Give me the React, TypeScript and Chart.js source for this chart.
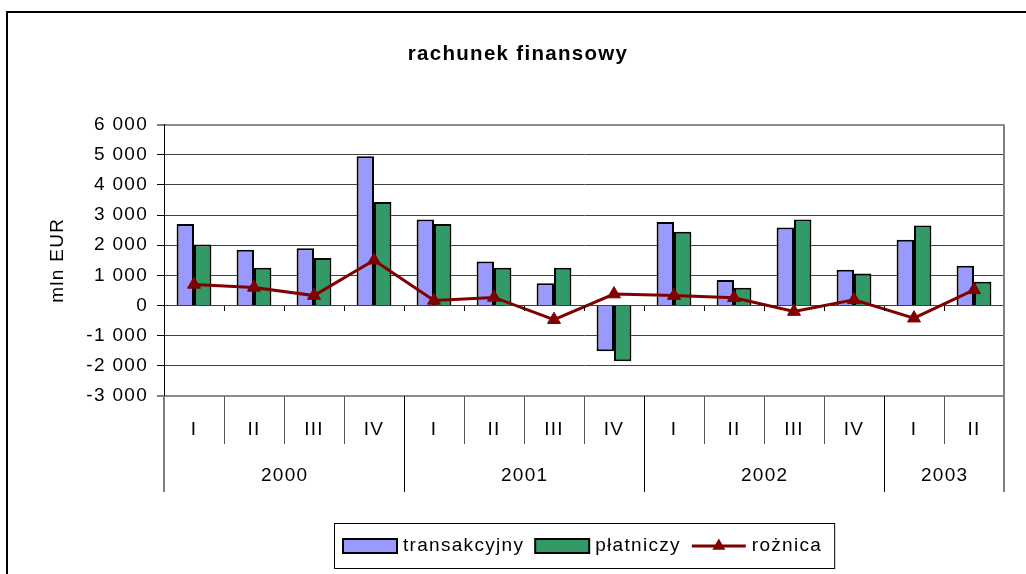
import React, { useEffect, useRef } from 'react';
import { Chart, registerables } from 'chart.js';

Chart.register(...registerables);

// ---- data ----
const quarterLabels = ['I', 'II', 'III', 'IV', 'I', 'II', 'III', 'IV', 'I', 'II', 'III', 'IV', 'I', 'II'];
const yearLabels = ['2000', '2001', '2002', '2003'];
const yearQuarterCounts = [4, 4, 4, 2];
const transakcyjny = [2700, 1850, 1900, 4950, 2850, 1460, 740, -1520, 2770, 850, 2590, 1190, 2180, 1320];
const platniczy = [2020, 1250, 1580, 3430, 2700, 1250, 1250, -1850, 2450, 590, 2850, 1060, 2650, 790];
const roznica = [700, 600, 330, 1500, 170, 270, -470, 380, 330, 260, -200, 190, -420, 520];
const seriesNames = ['transakcyjny', 'płatniczy', 'rożnica'];
const chartTitle = 'rachunek finansowy';
const yAxisTitle = 'mln EUR';
const yMin = -3000;
const yMax = 6000;
const yStep = 1000;

const FAMILY = '"Liberation Sans", Arial, sans-serif';
const BLUE = '#9999FF';
const GREEN = '#339966';
const LINE = '#800000';
const SPACING = '1.3px';

const fmt = (v: number) => {
  const s = Math.abs(v).toString().replace(/\B(?=(\d{3})+(?!\d))/g, ' ');
  return (v < 0 ? '-' : '') + s;
};

const decorPlugin = {
  id: 'decor',
  beforeDraw(chart: any) {
    const ctx = chart.ctx;
    ctx.letterSpacing = SPACING;
    ctx.save();
    ctx.strokeStyle = '#000';
    ctx.lineWidth = 2;
    ctx.beginPath();
    ctx.moveTo(7, chart.height);
    ctx.lineTo(7, 12);
    ctx.lineTo(chart.width, 12);
    ctx.stroke();
    ctx.restore();
  },
  afterDraw(chart: any) {
    const ctx = chart.ctx;
    const xs = chart.scales.x;
    const ys = chart.scales.y;
    const area = chart.chartArea;
    const n = quarterLabels.length;
    const half = (xs.getPixelForValue(1) - xs.getPixelForValue(0)) / 2;
    const bx = (b: number) => (b < n ? xs.getPixelForValue(b) - half : xs.getPixelForValue(n - 1) + half);

    ctx.save();
    ctx.letterSpacing = SPACING;

    // plot area right border
    ctx.strokeStyle = '#808080';
    ctx.lineWidth = 2;
    ctx.beginPath();
    ctx.moveTo(Math.round(area.right), area.top);
    ctx.lineTo(Math.round(area.right), area.bottom);
    ctx.stroke();

    // tick marks on the zero line
    const y0 = Math.round(ys.getPixelForValue(0));
    ctx.strokeStyle = '#000';
    ctx.lineWidth = 1;
    for (let b = 1; b < n; b++) {
      const x = Math.round(bx(b)) + 0.5;
      ctx.beginPath();
      ctx.moveTo(x, y0);
      ctx.lineTo(x, y0 + 5);
      ctx.stroke();
    }

    // category dividers (quarters / years)
    const yearBounds: number[] = [0];
    yearQuarterCounts.forEach((c) => yearBounds.push(yearBounds[yearBounds.length - 1] + c));
    const top = Math.round(xs.top);
    for (let b = 0; b <= n; b++) {
      const isYear = yearBounds.includes(b);
      const isEdge = b === 0 || b === n;
      ctx.strokeStyle = isEdge ? '#808080' : isYear ? '#000' : '#555';
      ctx.lineWidth = isEdge ? 2 : 1;
      const x = isEdge ? Math.round(bx(b)) : Math.round(bx(b)) + 0.5;
      ctx.beginPath();
      ctx.moveTo(x, top);
      ctx.lineTo(x, top + (isYear ? 96 : 48));
      ctx.stroke();
    }

    // year labels
    ctx.fillStyle = '#000';
    ctx.font = `19px ${FAMILY}`;
    ctx.textAlign = 'center';
    ctx.textBaseline = 'middle';
    for (let i = 0; i < yearLabels.length; i++) {
      const s = yearBounds[i];
      const e = yearBounds[i + 1] - 1;
      const cx = (xs.getPixelForValue(s) + xs.getPixelForValue(e)) / 2;
      ctx.fillText(yearLabels[i], cx + 0.65, top + 80);
    }

    // legend
    const items = [
      { kind: 'box', color: BLUE, label: seriesNames[0] },
      { kind: 'box', color: GREEN, label: seriesNames[1] },
      { kind: 'line', color: LINE, label: seriesNames[2] },
    ];
    const swW = 54;
    const swH = 14;
    const gapST = 6;
    const gapItems = 11;
    ctx.textAlign = 'left';
    const widths = items.map((it) => swW + gapST + ctx.measureText(it.label).width);
    const total = widths.reduce((a, b) => a + b, 0) + gapItems * (items.length - 1);
    const padL = 9;
    const padR = 12;
    const boxW = total + padL + padR;
    const cxA = (area.left + area.right) / 2;
    const boxLeft = Math.round(cxA - boxW / 2);
    const boxTop = Math.round(xs.bottom) + 31;
    const boxH = 45;
    ctx.strokeStyle = '#000';
    ctx.lineWidth = 1;
    ctx.strokeRect(boxLeft + 0.5, boxTop + 0.5, boxW, boxH);
    const cy = boxTop + boxH / 2 + 0.5;
    let x = boxLeft + padL;
    items.forEach((it, i) => {
      if (it.kind === 'box') {
        ctx.fillStyle = it.color;
        ctx.fillRect(x, cy - swH / 2, swW, swH);
        ctx.strokeStyle = '#000';
        ctx.lineWidth = 2;
        ctx.strokeRect(x, cy - swH / 2, swW, swH);
      } else {
        ctx.strokeStyle = it.color;
        ctx.lineWidth = 3;
        ctx.beginPath();
        ctx.moveTo(x, cy);
        ctx.lineTo(x + swW, cy);
        ctx.stroke();
        const mx = x + swW / 2;
        const r = 7.5;
        ctx.fillStyle = it.color;
        ctx.beginPath();
        ctx.moveTo(mx, cy - r);
        ctx.lineTo(mx + r * 0.866, cy + r * 0.5);
        ctx.lineTo(mx - r * 0.866, cy + r * 0.5);
        ctx.closePath();
        ctx.fill();
      }
      ctx.fillStyle = '#000';
      ctx.textBaseline = 'middle';
      ctx.fillText(it.label, x + swW + gapST, cy);
      x += widths[i] + gapItems;
    });

    ctx.restore();
  },
};

export default function App() {
  const ref = useRef<HTMLCanvasElement | null>(null);

  useEffect(() => {
    document.body.style.margin = '0';
    const canvas = ref.current;
    if (!canvas) return;
    const font = { family: FAMILY, size: 19 };
    const chart = new Chart(canvas, {
      type: 'bar',
      data: {
        labels: quarterLabels,
        datasets: [
          {
            type: 'line',
            label: seriesNames[2],
            data: roznica,
            borderColor: LINE,
            backgroundColor: LINE,
            borderWidth: 3,
            pointStyle: 'triangle',
            pointRadius: 7.5,
            pointBorderWidth: 1,
            pointBackgroundColor: LINE,
            pointBorderColor: LINE,
            tension: 0,
            order: 0,
          } as any,
          {
            type: 'bar',
            label: seriesNames[0],
            data: transakcyjny,
            backgroundColor: BLUE,
            borderColor: '#000',
            borderWidth: 2,
            categoryPercentage: 0.58,
            barPercentage: 1,
            order: 1,
          },
          {
            type: 'bar',
            label: seriesNames[1],
            data: platniczy,
            backgroundColor: GREEN,
            borderColor: '#000',
            borderWidth: 2,
            categoryPercentage: 0.58,
            barPercentage: 1,
            order: 1,
          },
        ],
      },
      options: {
        responsive: false,
        animation: false,
        events: [],
        layout: { padding: { left: 32, right: 22, top: 0, bottom: 82 } },
        plugins: {
          legend: { display: false },
          tooltip: { enabled: false },
          title: {
            display: true,
            text: chartTitle,
            color: '#000',
            font: { family: FAMILY, size: 20.5, weight: 'bold' },
            padding: { top: 42, bottom: 58 },
          },
        },
        scales: {
          x: {
            type: 'category',
            offset: true,
            grid: { display: false },
            border: { display: false },
            ticks: { color: '#000', font, padding: 14, maxRotation: 0, autoSkip: false },
            afterFit: (s: any) => {
              s.height = 96;
            },
          },
          y: {
            min: yMin,
            max: yMax,
            ticks: {
              stepSize: yStep,
              color: '#000',
              font,
              padding: 9,
              callback: (v: any) => fmt(Number(v)),
            },
            grid: {
              color: (c: any) => (c.tick && (c.tick.value === yMax || c.tick.value === yMin) ? '#8c8c8c' : '#404040'),
              lineWidth: (c: any) => (c.tick && (c.tick.value === yMax || c.tick.value === yMin) ? 2 : 1),
              tickLength: 7,
              tickColor: '#000',
              tickWidth: 1,
            },
            border: { display: true, color: '#000', width: 1 },
            title: {
              display: true,
              text: yAxisTitle,
              color: '#000',
              font,
              padding: { top: 14, bottom: 0 },
            },
            afterFit: (s: any) => {
              s.width = 132;
            },
          },
        },
      },
      plugins: [decorPlugin],
    });
    return () => chart.destroy();
  }, []);

  return (
    <div style={{ position: 'fixed', left: 0, top: 0, width: 1026, height: 574, background: '#fff' }}>
      <canvas ref={ref} width={1026} height={574} style={{ display: 'block', width: 1026, height: 574 }} />
    </div>
  );
}
